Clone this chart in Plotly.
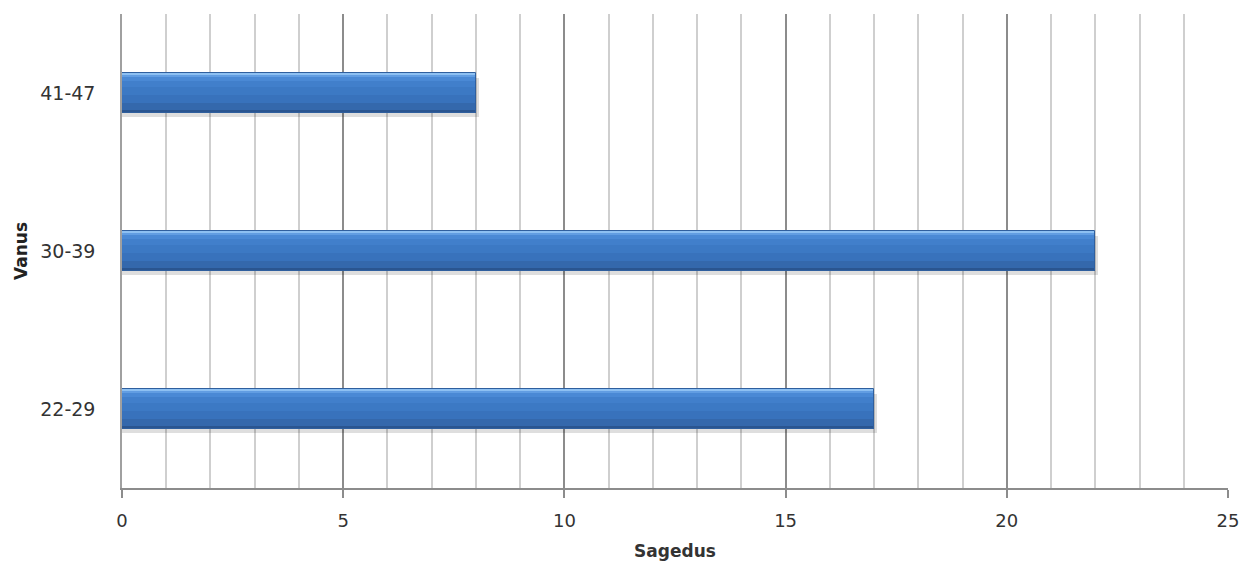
import plotly.graph_objects as go

# Age groups and how often each occurs
categories = ["22-29", "30-39", "41-47"]
values = [17, 22, 8]

x_ticks = [0, 5, 10, 15, 20, 25]

fig = go.Figure()

BAR_W = 0.25
half = BAR_W / 2

# soft drop shadow under each bar
fig.add_trace(go.Bar(
    y=categories, x=[v + 0.07 for v in values], orientation="h",
    width=BAR_W, offset=-half - 0.03,
    marker=dict(color="rgba(0,0,0,0.13)", line=dict(width=0)),
    hoverinfo="skip", showlegend=False,
))

# vertical shading bands: light edge on top, deeper blue towards the bottom
bands = [
    (-half, -half + 0.02, "#2a5590"),
    (-half + 0.02, -half + 0.06, "#3468ac"),
    (-half + 0.06, -half + 0.11, "#3872bc"),
    (-half + 0.11, -half + 0.16, "#3c79c4"),
    (-half + 0.16, -half + 0.20, "#417fcb"),
    (-half + 0.20, -half + 0.225, "#4a89d5"),
    (-half + 0.225, -half + 0.24, "#619de2"),
    (-half + 0.24, half, "#8dc0f2"),
]
for lo, hi, col in bands:
    fig.add_trace(go.Bar(
        y=categories, x=values, orientation="h",
        width=hi - lo, offset=lo,
        marker=dict(color=col, line=dict(width=0)),
        hoverinfo="skip", showlegend=False,
    ))

# thin outline around each bar
fig.add_trace(go.Bar(
    y=categories, x=values, orientation="h",
    width=BAR_W, offset=-half,
    marker=dict(color="rgba(0,0,0,0)", line=dict(width=1, color="#2f5f9e")),
    hovertemplate="%{y}: %{x}<extra></extra>", showlegend=False,
))

font_family = "DejaVu Sans, Verdana, sans-serif"

fig.update_layout(
    width=1241, height=561,
    margin=dict(l=122, r=13, t=14, b=73),
    barmode="overlay",
    plot_bgcolor="white", paper_bgcolor="white",
    font=dict(family=font_family, size=18, color="#333333"),
    xaxis=dict(
        range=[0, 25], tickvals=x_ticks, ticktext=[str(t) for t in x_ticks],
        showgrid=True, gridcolor="#8c8c8c", gridwidth=1.5,
        minor=dict(dtick=1, tick0=0, showgrid=True, gridcolor="#cfcfcf", gridwidth=1.5),
        showline=True, linecolor="#8c8c8c", linewidth=1.5,
        ticks="outside", ticklen=8, tickcolor="#8c8c8c", tickwidth=1.5,
        ticklabelstandoff=8,
        zeroline=False, automargin=False,
        title=dict(text="<b>Sagedus</b>", font=dict(size=17, color="#333333"), standoff=16),
        fixedrange=True,
    ),
    yaxis=dict(
        type="category", categoryorder="array", categoryarray=categories,
        range=[-0.5, 2.5],
        showgrid=False, showline=True, linecolor="#a0a0a0", linewidth=1.5,
        ticks="", ticklabelstandoff=21,
        tickfont=dict(size=19),
        zeroline=False, automargin=False,
        title=dict(text="<b>Vanus</b>", font=dict(size=17, color="#222222"), standoff=8),
        fixedrange=True,
    ),
    bargap=0,
)

fig.write_html("out.html")
